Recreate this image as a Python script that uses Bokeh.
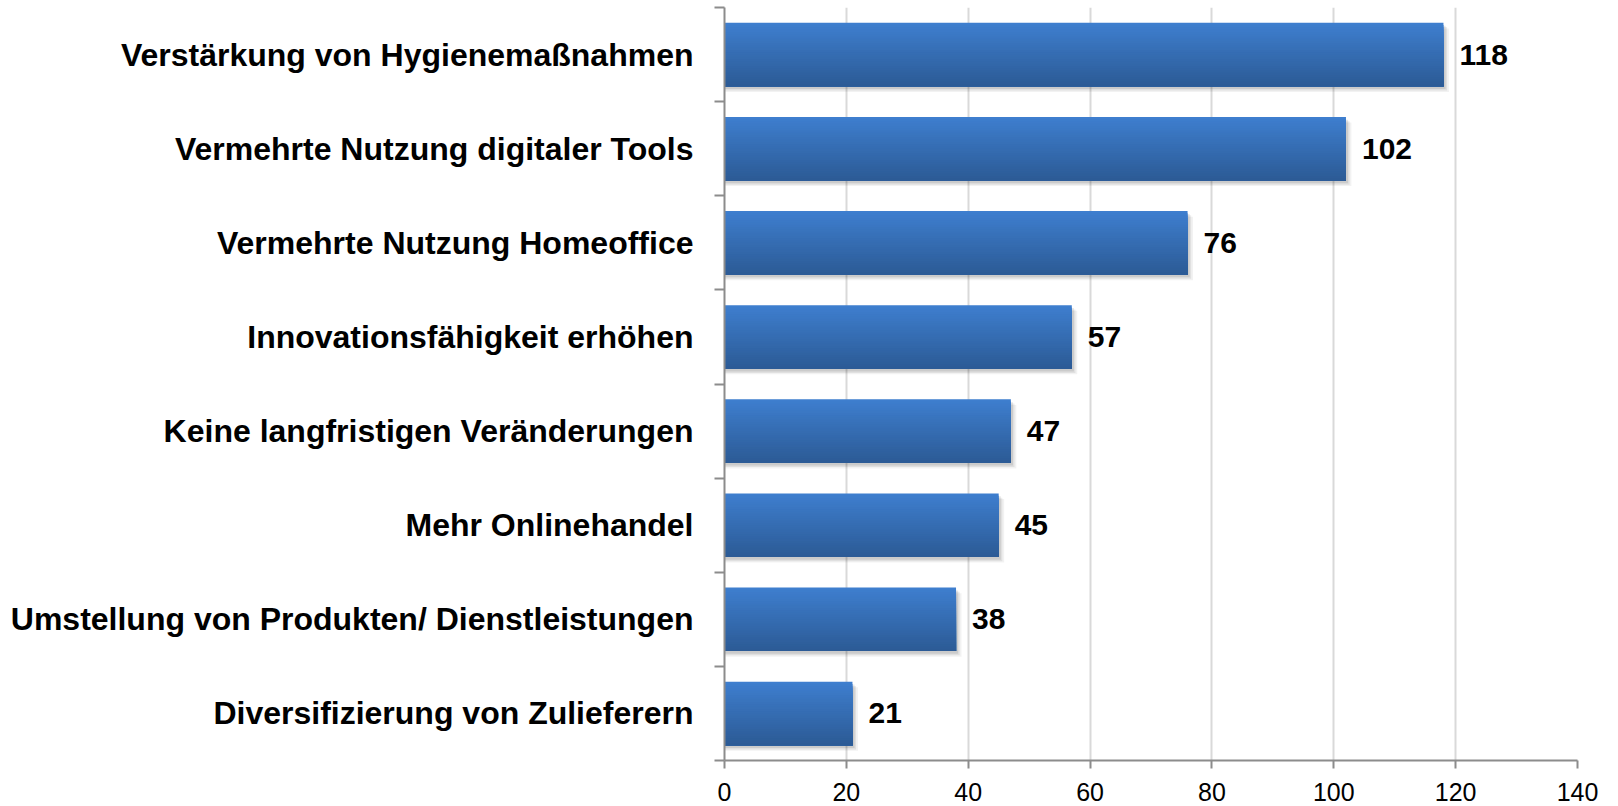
from bokeh.plotting import figure
from bokeh.models import Range1d, FixedTicker
from bokeh.core.properties import value
from bokeh.embed import file_html
from bokeh.resources import INLINE

categories = [
    "Verstärkung von Hygienemaßnahmen",
    "Vermehrte Nutzung digitaler Tools",
    "Vermehrte Nutzung Homeoffice",
    "Innovationsfähigkeit erhöhen",
    "Keine langfristigen Veränderungen",
    "Mehr Onlinehandel",
    "Umstellung von Produkten/ Dienstleistungen",
    "Diversifizierung von Zulieferern",
]
counts = [118, 102, 76, 57, 47, 45, 38, 21]
x_ticks = [0, 20, 40, 60, 80, 100, 120, 140]

FONT = value("Liberation Sans")
n = len(categories)
centers = [n - i - 0.5 for i in range(n)]
bar_h = 0.674

p = figure(width=1610, height=806, x_range=Range1d(0, 140), y_range=Range1d(0, n),
           output_backend="svg", toolbar_location=None,
           min_border_left=724, min_border_right=33, min_border_top=7, min_border_bottom=46)
p.outline_line_color = None
p.background_fill_color = "white"
p.border_fill_color = "white"

# grid
p.ygrid.visible = False
p.xgrid.ticker = FixedTicker(ticks=x_ticks)
p.xgrid.grid_line_color = "#d9d9d9"
p.xgrid.grid_line_width = 2

# x axis
xa = p.xaxis[0]
xa.ticker = FixedTicker(ticks=x_ticks, minor_ticks=[])
xa.axis_line_color = "#8c8c8c"
xa.axis_line_width = 2
xa.major_tick_line_color = "#8c8c8c"
xa.major_tick_line_width = 2
xa.major_tick_out = 8
xa.major_tick_in = 0
xa.minor_tick_line_color = None
xa.major_label_text_font = "Liberation Sans"
xa.major_label_text_font_size = "25px"
xa.major_label_text_color = "black"
xa.major_label_standoff = 14

# y axis
ya = p.yaxis[0]
ya.ticker = FixedTicker(ticks=centers, minor_ticks=list(range(n + 1)))
ya.major_label_overrides = {c: cat for c, cat in zip(centers, categories)}
ya.axis_line_color = "#8c8c8c"
ya.axis_line_width = 2
ya.major_tick_line_color = None
ya.major_tick_out = 0
ya.major_tick_in = 0
ya.minor_tick_line_color = "#8c8c8c"
ya.minor_tick_line_width = 2
ya.minor_tick_out = 10
ya.minor_tick_in = 0
ya.major_label_text_font = "Liberation Sans"
ya.major_label_text_font_style = "bold"
ya.major_label_text_font_size = "32px"
ya.major_label_text_color = "black"
ya.major_label_standoff = 21

# soft shadows
for dy, dx, a in [(0.06, 0.9, 0.05), (0.045, 0.6, 0.07), (0.03, 0.35, 0.09)]:
    p.hbar(y=[c - dy for c in centers], left=0, right=[v + dx for v in counts],
           height=bar_h, fill_color="black", fill_alpha=a, line_color=None)

# gradient bars: successive layers covering the lower part with darker shades
N = 28
top = (62, 126, 206)
bot = (44, 91, 150)
for k in range(N):
    t = k / (N - 1)
    col = "#%02x%02x%02x" % tuple(int(round(top[j] + (bot[j] - top[j]) * t)) for j in range(3))
    hk = bar_h * (1 - k / N)
    ys = [c - bar_h / 2 + hk / 2 for c in centers]
    p.hbar(y=ys, left=0, right=counts, height=hk, fill_color=col, line_color=None)

# value labels
p.text(x=counts, y=centers, text=[str(v) for v in counts], x_offset=16,
       text_align="left", text_baseline="middle", text_font=FONT,
       text_font_style="bold", text_font_size="30px", text_color="black")

open("out.html", "w").write(file_html(p, INLINE))
